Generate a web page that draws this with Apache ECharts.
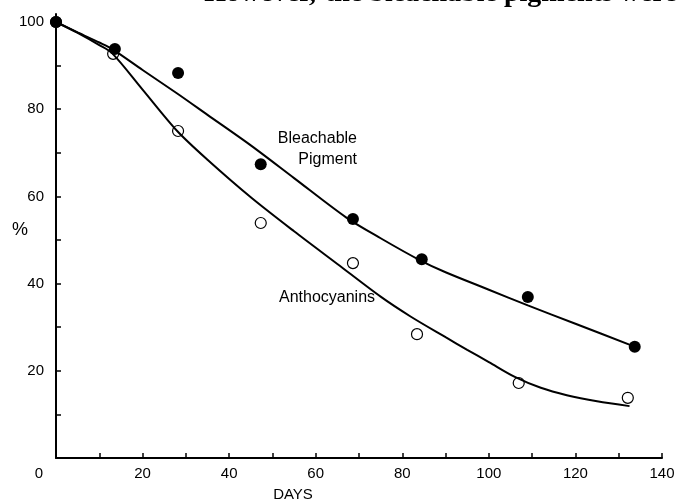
<!DOCTYPE html>
<html>
<head>
<meta charset="utf-8">
<script src="https://cdn.jsdelivr.net/npm/echarts@6/dist/echarts.min.js"></script>
<style>
  html, body { margin: 0; padding: 0; background: #fff; }
  #chart { width: 683px; height: 504px; }
</style>
</head>
<body>
<div id="chart"></div>
<script>
const bleachDays = [0, 13.6, 28.2, 47.3, 68.6, 84.5, 109, 133.7]
const bleachVals = [100, 93.8, 88.3, 67.4, 54.8, 45.6, 36.9, 25.5]
const anthoDays = [0, 13.2, 28.2, 47.3, 68.6, 83.4, 106.9, 132.1]
const anthoVals = [100, 92.7, 75, 53.9, 44.7, 28.4, 17.2, 13.8]

// 拟合曲线（沿图中曲线读取）
const bleachCurveDays = [0, 5, 10, 13, 20, 28, 35, 45, 55, 67, 75, 84, 90, 100, 109, 120, 133.5]
const bleachCurveVals = [100, 97.6, 95.3, 93.8, 89, 83.6, 78.7, 71.7, 64.2, 55.2, 50.4, 45.4, 42.6, 38.6, 35, 30.8, 25.6]
const anthoCurveDays = [0, 5, 10, 13, 20, 28, 35, 45, 55, 65, 75, 82, 90, 95, 100, 106, 112, 118, 125, 132.5]
const anthoCurveVals = [100, 97.5, 94.7, 92.8, 84.5, 75, 68.4, 59.8, 52, 44.5, 37, 32.4, 27.7, 24.8, 22, 18.6, 16.1, 14.4, 13, 11.9]

const xTicks = [0, 20, 40, 60, 80, 100, 120, 140]
const yTicks = [20, 40, 60, 80, 100]

const zip = (xs, ys) => xs.map((x, i) => [x, ys[i]])
const ink = '#000'
const font = 'Liberation Sans'

const chart = echarts.init(document.getElementById('chart'))
chart.setOption({
  animation: false,
  textStyle: { fontFamily: font },
  grid: [
    { left: 56, right: 21, top: 22, bottom: 46 },
    // 只用来把纵轴线画高一点
    { left: 56, right: 21, top: 14, bottom: 46 }
  ],
  xAxis: [
    {
      type: 'value',
      min: 0,
      max: 140,
      interval: 10,
      splitLine: { show: false },
      axisLine: { lineStyle: { color: ink, width: 2 } },
      axisTick: { inside: true, length: 5, lineStyle: { color: ink, width: 1.5 } },
      axisLabel: {
        margin: 8,
        color: ink,
        fontSize: 15,
        fontFamily: font,
        formatter: v => {
          if (!xTicks.includes(v)) return ''
          if (v === 0) return '{z|0}'
          return String(v)
        },
        rich: {
          z: { color: ink, fontSize: 15, fontFamily: font, padding: [0, 34, 0, 0] }
        }
      }
    },
    { gridIndex: 1, type: 'value', min: 0, max: 140, show: false }
  ],
  yAxis: [
    {
      type: 'value',
      min: 0,
      max: 100,
      interval: 10,
      splitLine: { show: false },
      axisLine: { show: false },
      axisTick: { inside: true, length: 5, lineStyle: { color: ink, width: 1.5 } },
      axisLabel: {
        margin: 12,
        color: ink,
        fontSize: 15,
        fontFamily: font,
        formatter: v => (yTicks.includes(v) ? String(v) : '')
      }
    },
    {
      gridIndex: 1,
      type: 'value',
      min: 0,
      max: 100,
      axisLine: { show: true, lineStyle: { color: ink, width: 2 } },
      axisTick: { show: false },
      axisLabel: { show: false },
      splitLine: { show: false }
    }
  ],
  graphic: [
    {
      type: 'text',
      x: 20,
      y: 230,
      style: { text: '%', fill: ink, font: '18px "Liberation Sans"', textAlign: 'center', textVerticalAlign: 'middle' }
    },
    {
      type: 'text',
      x: 293,
      y: 495,
      style: { text: 'DAYS', fill: ink, font: '15px "Liberation Sans"', textAlign: 'center', textVerticalAlign: 'middle' }
    },
    {
      type: 'text',
      x: 357,
      y: 149,
      style: {
        text: 'Bleachable\nPigment',
        fill: ink,
        font: '16px "Liberation Sans"',
        textAlign: 'right',
        textVerticalAlign: 'middle',
        lineHeight: 21
      }
    },
    {
      type: 'text',
      x: 327,
      y: 298,
      style: { text: 'Anthocyanins', fill: ink, font: '16px "Liberation Sans"', textAlign: 'center', textVerticalAlign: 'middle' }
    },
    // 页面顶部被裁掉的正文
    {
      type: 'text',
      x: 316,
      y: -6,
      style: { text: 'However,', fill: ink, font: 'bold 28px "Liberation Serif"', textAlign: 'right', textVerticalAlign: 'middle' }
    },
    {
      type: 'text',
      x: 325,
      y: -6,
      style: { text: 'the bleachable pigments were', fill: ink, font: 'bold 28px "Liberation Serif"', textAlign: 'left', textVerticalAlign: 'middle' }
    }
  ],
  series: [
    {
      name: 'Bleachable Pigment fit',
      type: 'line',
      smooth: 0.3,
      showSymbol: false,
      data: zip(bleachCurveDays, bleachCurveVals),
      lineStyle: { color: ink, width: 2 }
    },
    {
      name: 'Anthocyanins fit',
      type: 'line',
      smooth: 0.3,
      showSymbol: false,
      data: zip(anthoCurveDays, anthoCurveVals),
      lineStyle: { color: ink, width: 2 }
    },
    {
      name: 'Anthocyanins',
      type: 'scatter',
      clip: false,
      symbol: 'circle',
      symbolSize: 11,
      data: zip(anthoDays, anthoVals),
      itemStyle: { color: '#fff', borderColor: ink, borderWidth: 1.2, opacity: 1 }
    },
    {
      name: 'Bleachable Pigment',
      type: 'scatter',
      clip: false,
      symbol: 'circle',
      symbolSize: 12,
      data: zip(bleachDays, bleachVals),
      itemStyle: { color: ink, opacity: 1 }
    }
  ]
})
</script>
</body>
</html>
